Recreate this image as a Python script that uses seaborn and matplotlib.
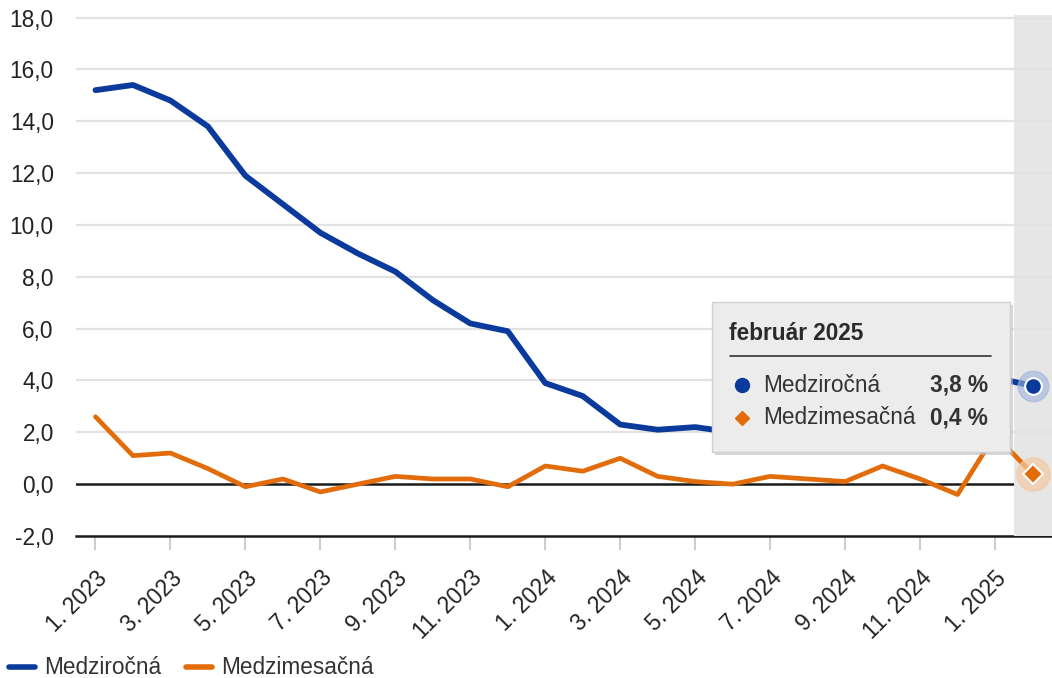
import pandas as pd
import matplotlib.pyplot as plt
import seaborn as sns
from matplotlib.patches import Rectangle
from matplotlib.lines import Line2D

# months Jan 2023 - Feb 2025
months = ["1. 2023", "2. 2023", "3. 2023", "4. 2023", "5. 2023", "6. 2023",
          "7. 2023", "8. 2023", "9. 2023", "10. 2023", "11. 2023", "12. 2023",
          "1. 2024", "2. 2024", "3. 2024", "4. 2024", "5. 2024", "6. 2024",
          "7. 2024", "8. 2024", "9. 2024", "10. 2024", "11. 2024", "12. 2024",
          "1. 2025", "2. 2025"]
medzirocna = [15.2, 15.4, 14.8, 13.8, 11.9, 10.8, 9.7, 8.9, 8.2, 7.1, 6.2, 5.9,
              3.9, 3.4, 2.3, 2.1, 2.2, 2.0, 2.3, 2.6, 2.6, 2.9, 3.2, 3.2,
              4.1, 3.8]
medzimesacna = [2.6, 1.1, 1.2, 0.6, -0.1, 0.2, -0.3, 0.0, 0.3, 0.2, 0.2, -0.1,
                0.7, 0.5, 1.0, 0.3, 0.1, 0.0, 0.3, 0.2, 0.1, 0.7, 0.2, -0.4,
                1.9, 0.4]
yticks = [-2, 0, 2, 4, 6, 8, 10, 12, 14, 16, 18]

BLUE = "#0a3a9c"
ORANGE = "#e36c0a"
FS = 16.3

df = pd.DataFrame({"idx": range(len(months)), "month": months,
                   "Medziročná": medzirocna, "Medzimesačná": medzimesacna})

sns.set_style("white")
plt.rcParams["font.family"] = ["Liberation Sans", "DejaVu Sans"]

fig = plt.figure(figsize=(10.52, 6.78), dpi=100)
ax = fig.add_axes([76 / 1052, 1 - 536 / 678, 976 / 1052, 521 / 678])

# gridlines, zero line, hover band
for v in yticks:
    if v > 0:
        ax.axhline(v, color="#e2e2e2", lw=1.6, zorder=2.2)
ax.axhline(0, color="#1a1a1a", lw=1.8, zorder=1)
ax.axvspan(24.5, 25.52, color="#e6e6e6", zorder=2, lw=0)

sns.lineplot(data=df, x="idx", y="Medziročná", color=BLUE, lw=4.2, ax=ax, zorder=3)
sns.lineplot(data=df, x="idx", y="Medzimesačná", color=ORANGE, lw=3.4, ax=ax, zorder=3)

# hover markers on last point
last = len(months) - 1
ax.plot(last, medzirocna[last], "o", ms=22, color="#9fb3dd", alpha=0.6, zorder=4)
ax.plot(last, medzirocna[last], "o", ms=12, color=BLUE, mec="white", mew=1.5, zorder=5)
ax.plot(last, medzimesacna[last], "o", ms=24, color="#f3c9a3", alpha=0.7, zorder=4)
ax.plot(last, medzimesacna[last], "D", ms=10, color=ORANGE, mec="white", mew=1.5, zorder=5)

ax.set_xlim(-0.52, 25.52)
ax.set_ylim(-2, 18.1)
ax.set_yticks(yticks)
ax.set_yticklabels([f"{v:.1f}".replace(".", ",") for v in yticks])
ax.set_xticks(range(0, len(months), 2))
ax.set_xticklabels(months[::2], rotation=45, ha="right", rotation_mode="anchor")
ax.tick_params(axis="y", length=0, labelsize=FS, labelcolor="#222222", pad=16)
ax.tick_params(axis="x", length=10, width=1.5, color="#cccccc", labelsize=FS,
               labelcolor="#222222", pad=12, bottom=True)
ax.set_xlabel("")
ax.set_ylabel("")
for s in ["top", "right", "left"]:
    ax.spines[s].set_visible(False)
ax.spines["bottom"].set_color("#1a1a1a")
ax.spines["bottom"].set_linewidth(1.8)
ax.spines["bottom"].set_zorder(1)

# tooltip
def fx(px):
    return (px - 76) / 976

def fy(py):
    return (536 - py) / 521

ax.add_patch(Rectangle((fx(715), fy(455)), fx(1013) - fx(715), fy(305) - fy(455),
                       transform=ax.transAxes, color="#bdbdbd", alpha=0.6,
                       zorder=9, lw=0))
ax.add_patch(Rectangle((fx(712), fy(452)), fx(1010) - fx(712), fy(302) - fy(452),
                       transform=ax.transAxes, facecolor="#ececec",
                       edgecolor="#d0d0d0", lw=1, zorder=10))
ax.text(fx(729), fy(334), "február 2025", transform=ax.transAxes, fontsize=FS,
        fontweight="bold", color="#2a2a2a", va="center", zorder=11)
ax.plot([fx(730), fx(991)], [fy(356), fy(356)], transform=ax.transAxes,
        color="#333333", lw=1.2, zorder=11)
ax.plot(fx(742), fy(385), "o", ms=10, color=BLUE, transform=ax.transAxes, zorder=11)
ax.plot(fx(742), fy(418), "D", ms=7, color=ORANGE, transform=ax.transAxes, zorder=11)
ax.text(fx(763), fy(385), "Medziročná", transform=ax.transAxes, fontsize=FS,
        color="#333333", va="center", zorder=11)
ax.text(fx(763), fy(418), "Medzimesačná", transform=ax.transAxes, fontsize=FS,
        color="#333333", va="center", zorder=11)
ax.text(fx(988), fy(385), "3,8 %", transform=ax.transAxes, fontsize=FS,
        fontweight="bold", color="#333333", va="center", ha="right", zorder=11)
ax.text(fx(988), fy(418), "0,4 %", transform=ax.transAxes, fontsize=FS,
        fontweight="bold", color="#333333", va="center", ha="right", zorder=11)

handles = [Line2D([], [], color=BLUE, lw=4), Line2D([], [], color=ORANGE, lw=4)]
fig.legend(handles, ["Medziročná", "Medzimesačná"], loc="center left",
           bbox_to_anchor=(0.0, 1 - 668 / 678), ncol=2, frameon=False,
           fontsize=FS, handlelength=1.15, columnspacing=1.1, handletextpad=0.4,
           borderaxespad=0, labelcolor="#333333")

fig.savefig("out.png", dpi=100)
